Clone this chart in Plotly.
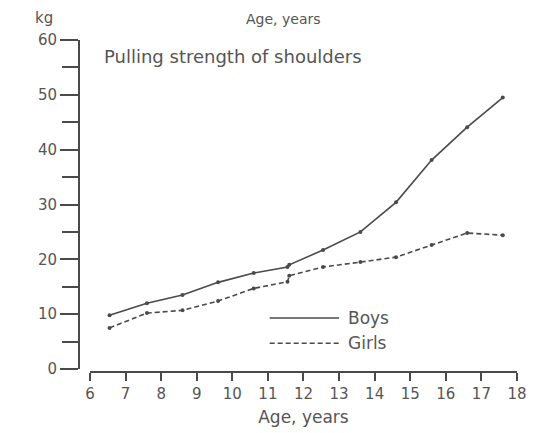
import plotly.graph_objects as go

# ages (years) and pulling strength (kg)
boys_age = [6.55, 7.6, 8.6, 9.6, 10.6, 11.55, 11.6, 12.55, 13.6, 14.6, 15.6, 16.6, 17.6]
boys_kg = [9.8, 12.0, 13.5, 15.8, 17.5, 18.6, 19.0, 21.7, 25.0, 30.4, 38.1, 44.1, 49.5]

girls_age = [6.55, 7.6, 8.6, 9.6, 10.6, 11.55, 11.6, 12.55, 13.6, 14.6, 15.6, 16.6, 17.6]
girls_kg = [7.5, 10.2, 10.7, 12.4, 14.7, 15.9, 17.0, 18.6, 19.5, 20.4, 22.6, 24.8, 24.4]

x_ticks = list(range(6, 19))
y_ticks = [0, 10, 20, 30, 40, 50, 60]

ink = "#4a4a4a"
grey = "#555555"
font = dict(family="DejaVu Sans", size=15, color=grey)
big = dict(family="DejaVu Sans", size=17, color=grey)

fig = go.Figure()

fig.add_trace(go.Scatter(x=boys_age, y=boys_kg, mode="lines+markers", name="Boys",
                         line=dict(color=ink, width=1.6),
                         marker=dict(size=4, color=ink)))
fig.add_trace(go.Scatter(x=girls_age, y=girls_kg, mode="lines+markers", name="Girls",
                         line=dict(color=ink, width=1.6, dash="5px,3px"),
                         marker=dict(size=4, color=ink)))

# hand-drawn style legend
fig.add_shape(type="line", x0=11.05, x1=13.0, y0=9.3, y1=9.3, xref="x", yref="y",
              line=dict(color=ink, width=1.6))
fig.add_shape(type="line", x0=11.05, x1=13.0, y0=4.7, y1=4.7, xref="x", yref="y",
              line=dict(color=ink, width=1.6, dash="5px,3px"))
fig.add_annotation(x=13.2, y=9.3, xref="x", yref="y", text="Boys", showarrow=False,
                   xanchor="left", font=big)
fig.add_annotation(x=13.2, y=4.7, xref="x", yref="y", text="Girls", showarrow=False,
                   xanchor="left", font=big)

fig.add_annotation(x=6.35, y=57.0, xref="x", yref="y", text="Pulling strength of shoulders",
                   showarrow=False, xanchor="left",
                   font=dict(family="DejaVu Sans", size=18, color=grey))

fig.add_annotation(x=0.0, y=1.0, xref="paper", yref="paper", text="kg", showarrow=False,
                   xanchor="center", yanchor="bottom", xshift=-16, yshift=11, font=font)
# caption left over from the previous figure at the very top
fig.add_annotation(x=0.5, y=1.0, xref="paper", yref="paper", text="Age, years", showarrow=False,
                   yanchor="bottom", yshift=11, xshift=-5,
                   font=dict(family="DejaVu Sans", size=14, color=grey))

# the page has an 8px body margin, so margins are offset to compensate
fig.update_layout(
    width=557, height=433,
    margin=dict(l=52, r=48, t=32, b=68),
    plot_bgcolor="white", paper_bgcolor="white",
    showlegend=False,
    font=font,
    xaxis=dict(domain=[0.0656, 1.0], range=[6, 18], anchor="free", position=0.003,
               automargin=False,
               tickvals=x_ticks, ticks="outside", ticklen=8, tickwidth=2, tickcolor=ink,
               showline=True, linewidth=2, linecolor=ink, showgrid=False, zeroline=False,
               title=dict(text="Age, years", standoff=8, font=big)),
    yaxis=dict(domain=[0.012, 1.0], range=[0, 60], anchor="free", position=0.0416,
               automargin=False,
               tickvals=y_ticks, ticks="outside", ticklen=18, tickwidth=2, tickcolor=ink,
               minor=dict(tickvals=[5, 15, 25, 35, 45, 55], ticks="outside", ticklen=16,
                          tickwidth=2, tickcolor=ink),
               showline=True, linewidth=2, linecolor=ink, showgrid=False, zeroline=False),
)

fig.write_html("out.html")
